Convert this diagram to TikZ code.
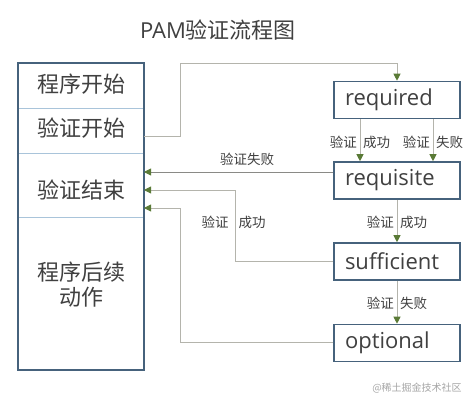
\documentclass[tikz,border=0pt]{standalone}
\usepackage{fontspec}
\setmainfont{Noto Sans CJK SC}
\newfontfamily\latinf{Open Sans}
\usetikzlibrary{arrows.meta}
\definecolor{boxc}{HTML}{46627C}
\definecolor{divc}{HTML}{A9C4DA}
\definecolor{txt}{HTML}{404040}
\definecolor{lineL}{HTML}{B4B4AC}
\definecolor{lineD}{HTML}{8A8A86}
\definecolor{arrg}{HTML}{5A7A36}
\tikzset{
  x=1pt,y=-1pt,
  modbox/.style={draw=boxc,line width=1.6pt,minimum width=126pt,minimum height=37pt,inner ysep=0pt,inner xsep=11pt,text width=104pt,align=left,font=\latinf\fontsize{22}{22}\selectfont,text=txt},
  lefttxt/.style={font=\fontsize{22}{25}\selectfont,text=txt,align=center},
  lbl/.style={font=\fontsize{13.5}{14}\selectfont,text=txt,inner sep=1pt},
  conn/.style={draw=lineL,line width=0.9pt,-{Triangle[length=7pt,width=7pt,color=arrg]}},
  connd/.style={draw=lineD,line width=0.9pt,-{Triangle[length=7pt,width=7pt,color=arrg]}},
  plainline/.style={draw=lineL,line width=0.9pt}
}
\begin{document}
\begin{tikzpicture}
\useasboundingbox[fill=white] (0,0) rectangle (474,406);
\node[font=\fontsize{22}{22}\selectfont,text=txt] (title) at (218,30) {{\latinf PAM}验证流程图};
% left box
\node[draw=boxc,line width=1.6pt,minimum width=126pt,minimum height=307pt,inner sep=0pt] (left) at (81,216.5) {};
\coordinate (d1l) at (19,108); \coordinate (d1r) at (143,108);
\coordinate (d2l) at (19,153); \coordinate (d2r) at (143,153);
\coordinate (d3l) at (19,217); \coordinate (d3r) at (143,217);
\draw[divc,line width=0.8pt] (d1l) -- (d1r);
\draw[divc,line width=0.8pt] (d2l) -- (d2r);
\draw[divc,line width=0.8pt] (d3l) -- (d3r);
\node[lefttxt] (t1) at (81,84) {程序开始};
\node[lefttxt] (t2) at (81,128) {验证开始};
\node[lefttxt] (t3) at (81,190) {验证结束};
\node[lefttxt] (t4) at (81,285) {程序后续\\动作};
% right boxes
\node[modbox] (req) at (397,100) {required};
\node[modbox] (reqs) at (397,180.5) {requisite};
\node[modbox] (suf) at (397,261.5) {sufficient};
\node[modbox] (opt) at (397,343) {optional};
% coordinates
\coordinate (s1) at (144,136);
\coordinate (c1a) at (180,136);
\coordinate (c1b) at (180,63);
\coordinate (c1c) at (397,63);
\draw[conn] (s1) -- (c1a) -- (c1b) -- (c1c) -- (req.north);
% required -> requisite
\draw[conn] (req.south -| 360,0) -- (reqs.north -| 360,0);
\draw[conn] (req.south -| 433,0) -- (reqs.north -| 433,0);
\node[lbl,anchor=east] (l1) at (358,142) {验证};
\node[lbl,anchor=west] (l2) at (362,142) {成功};
\node[lbl,anchor=east] (l3) at (431,142) {验证};
\node[lbl,anchor=west] (l4) at (435,142) {失败};
% requisite -> left
\coordinate (e2) at (144,172);
\draw[connd] (reqs.west |- e2) -- (e2);
\node[lbl] (l5) at (247,159) {验证失败};
% requisite -> sufficient
\draw[conn] (reqs.south) -- (suf.north);
\node[lbl,anchor=east] (l6) at (395,222) {验证};
\node[lbl,anchor=west] (l7) at (399,222) {成功};
% sufficient -> left
\coordinate (c3a) at (235,261);
\coordinate (c3b) at (235,190);
\coordinate (e3) at (144,190);
\draw[conn] (suf.west |- c3a) -- (c3a) -- (c3b) -- (e3);
\node[lbl] (l8) at (215,222) {验证};
\node[lbl] (l9) at (252,222) {成功};
% sufficient -> optional
\draw[conn] (suf.south) -- (opt.north);
\node[lbl,anchor=east] (l10) at (395,303) {验证};
\node[lbl,anchor=west] (l11) at (399,303) {失败};
% optional -> left
\coordinate (c4a) at (180,342);
\coordinate (c4b) at (180,208);
\coordinate (e4) at (144,208);
\draw[conn] (opt.west |- c4a) -- (c4a) -- (c4b) -- (e4);
% watermark
\node[font=\fontsize{10}{10}\selectfont,text=black!35] (wm) at (417,388) {@稀土掘金技术社区};
\end{tikzpicture}
\end{document}
